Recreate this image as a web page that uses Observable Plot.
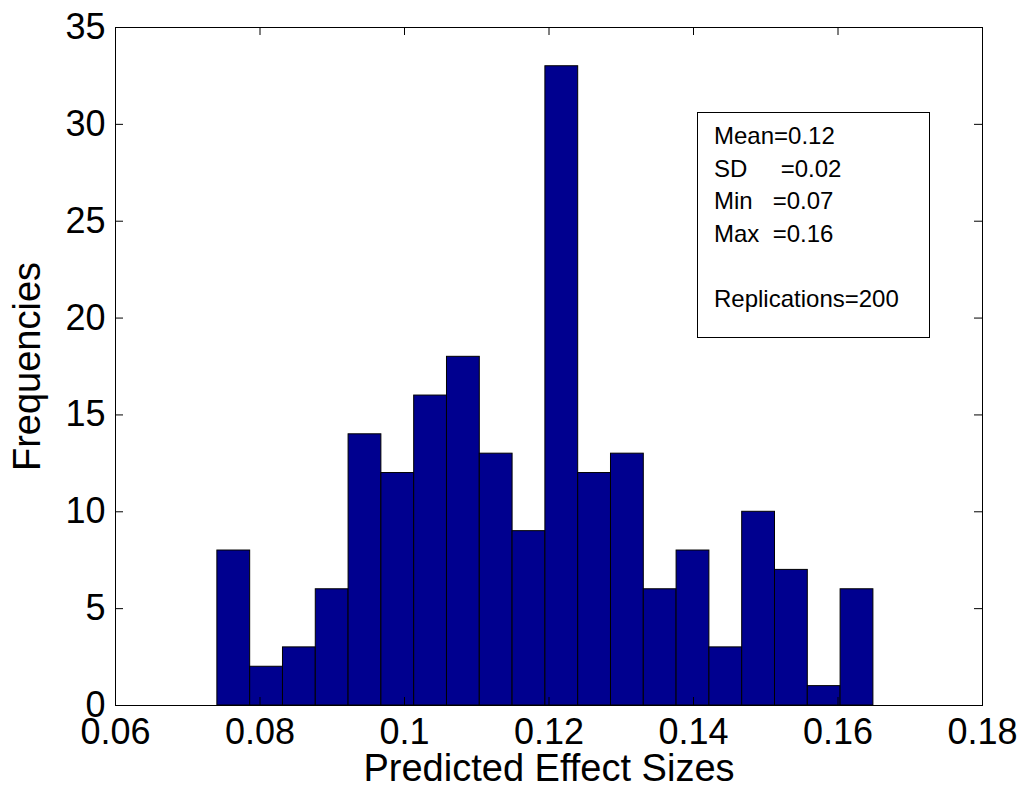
<!DOCTYPE html>
<html>
<head>
<meta charset="utf-8">
<script src="https://cdn.jsdelivr.net/npm/d3@7"></script>
<script src="https://cdn.jsdelivr.net/npm/@observablehq/plot@0.6"></script>
<style>
  body { margin: 0; background: #fff; }
  #chart svg { font-family: Arial, "Liberation Sans", sans-serif; }
</style>
</head>
<body>
<div id="chart"></div>
<script>
// Histogram of predicted effect sizes over 200 replications (20 bins)
const counts = [8, 2, 3, 6, 14, 12, 16, 18, 13, 9, 33, 12, 13, 6, 8, 3, 10, 7, 1, 6];
const dataMin = 0.0741;
const dataMax = 0.1649;
const xTicks = [0.06, 0.08, 0.1, 0.12, 0.14, 0.16, 0.18];
const xTickLabels = ["0.06", "0.08", "0.1", "0.12", "0.14", "0.16", "0.18"];
const yTicks = [0, 5, 10, 15, 20, 25, 30, 35];
const statLines = ["Mean=0.12", "SD     =0.02", "Min   =0.07", "Max  =0.16", "", "Replications=200"];

// equal-width bins spanning the observed range
const nBins = counts.length;
const binWidth = (dataMax - dataMin) / nBins;
const bins = counts.map((c, i) => ({x1: dataMin + i * binWidth, x2: dataMin + (i + 1) * binWidth, count: c}));

const W = 1024, H = 794;
const mL = 115, mR = 42, mT = 27, mB = 89;
const fw = W - mL - mR, fh = H - mT - mB;
const tickLen = 8;

const plot = Plot.plot({
  width: W,
  height: H,
  marginLeft: mL,
  marginRight: mR,
  marginTop: mT,
  marginBottom: mB,
  style: {background: "white", color: "black", fontFamily: "Arial, 'Liberation Sans', sans-serif"},
  x: {domain: [0.06, 0.18]},
  y: {domain: [0, 35]},
  marks: [
    Plot.rectY(bins, {x1: "x1", x2: "x2", y1: 0, y2: "count", fill: "#00008f", stroke: "black", strokeWidth: 1}),
    // inward ticks on all four sides
    Plot.tickX(xTicks, {x: d => d, insetTop: fh - tickLen, stroke: "black"}),
    Plot.tickX(xTicks, {x: d => d, insetBottom: fh - tickLen, stroke: "black"}),
    Plot.tickY(yTicks, {y: d => d, insetRight: fw - tickLen, stroke: "black"}),
    Plot.tickY(yTicks, {y: d => d, insetLeft: fw - tickLen, stroke: "black"}),
    Plot.frame({stroke: "black"}),
    Plot.axisX(xTicks, {tickSize: 0, tickPadding: 13, fontSize: 36, label: null,
      tickFormat: d => xTickLabels[xTicks.indexOf(d)]}),
    Plot.axisY(yTicks, {tickSize: 0, tickPadding: 10, fontSize: 36, label: null}),
    Plot.text(["Predicted Effect Sizes"], {text: d => d, frameAnchor: "bottom", dy: 63, lineAnchor: "middle", textAnchor: "middle", fontSize: 38, fill: "black"}),
    Plot.text(["Frequencies"], {text: d => d, frameAnchor: "left", dx: -88, rotate: -90, lineAnchor: "middle", textAnchor: "middle", fontSize: 38, fill: "black"})
  ]
});

document.getElementById("chart").appendChild(plot);

// statistics box in the upper right of the axes
const svg = d3.select(plot);
const boxX = mL + fw - 53 - 232, boxY = mT + 85, boxW = 232, boxH = 225;
const g = svg.append("g").attr("text-anchor", "start");
g.append("rect")
  .attr("x", boxX + 0.5).attr("y", boxY + 0.5)
  .attr("width", boxW).attr("height", boxH)
  .attr("fill", "white").attr("stroke", "black");
g.selectAll("text").data(statLines).join("text")
  .attr("x", boxX + 17)
  .attr("y", (d, i) => boxY + 32 + i * 32.5)
  .attr("font-size", 24)
  .attr("fill", "black")
  .attr("text-anchor", "start")
  .style("white-space", "pre")
  .text(d => d);
</script>
</body>
</html>
